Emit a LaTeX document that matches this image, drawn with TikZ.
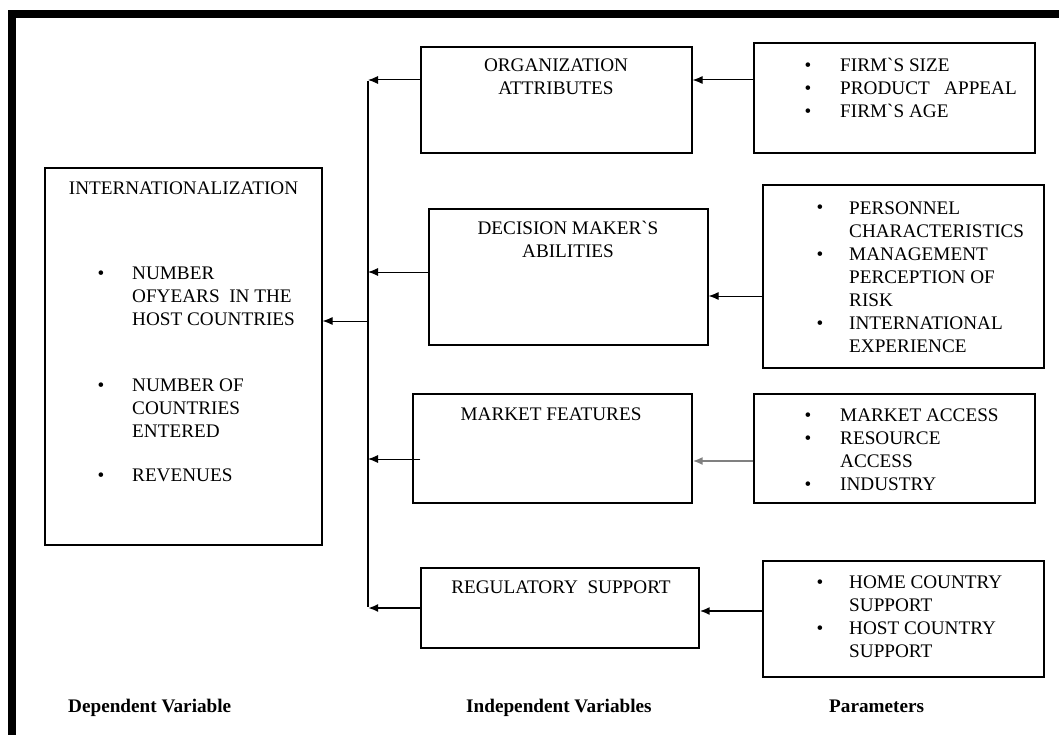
\documentclass[tikz,border=0pt]{standalone}
\usepackage{fontspec}
\setmainfont{Liberation Serif}[Ligatures=TeXOff]
\usetikzlibrary{arrows.meta}
\begin{document}
\begin{tikzpicture}[x=1pt,y=-1pt,
  box/.style={draw, line width=1.2pt, inner sep=0pt, minimum width=#1},
  txt/.style={font=\fontsize{19.2}{23}\selectfont, inner sep=0pt, anchor=base west, align=left},
  ctxt/.style={font=\fontsize{19.2}{23}\selectfont, inner sep=0pt, anchor=base, align=center},
  lbl/.style={font=\fontsize{19.2}{23}\selectfont\bfseries, inner sep=0pt, anchor=base west},
  bul/.style={font=\fontsize{19.2}{23}\selectfont, inner sep=0pt, anchor=base},
  thin/.style={line width=1pt, -{Latex[length=10pt,width=8pt]}},
  thick/.style={line width=2pt, -{Latex[length=10pt,width=8pt]}}]
\useasboundingbox (0,0) rectangle (1059,735);
% frame
\fill (8,10) rectangle (16,735);
\fill (8,10) rectangle (1059,18);
% boxes
\node[box=277pt, minimum height=377pt] (intl) at (183.5,356.5) {};
\node[box=271pt, minimum height=106pt] (org) at (556.5,100) {};
\node[box=279pt, minimum height=136pt] (dec) at (568.5,277) {};
\node[box=279pt, minimum height=109pt] (mkt) at (552.5,448.5) {};
\node[box=278pt, minimum height=80pt] (reg) at (560,608) {};
\node[box=281pt, minimum height=110pt] (p1) at (894.5,98) {};
\node[box=281pt, minimum height=183pt] (p2) at (903.5,276.5) {};
\node[box=281pt, minimum height=109pt] (p3) at (894.5,448.5) {};
\node[box=281pt, minimum height=116pt] (p4) at (903.5,619) {};
% texts (multi-line nodes: anchor on last line's baseline)
\node[ctxt] (tintl) at (183.5,195) {INTERNATIONALIZATION};
\node[bul] (bi1) at (101,279) {\textbullet};
\node[txt] (ti1) at (132,325) {NUMBER\\OFYEARS\ \ IN THE\\HOST COUNTRIES};
\node[bul] (bi2) at (101,391) {\textbullet};
\node[txt] (ti2) at (132,437) {NUMBER OF\\COUNTRIES\\ENTERED};
\node[bul] (bi3) at (101,481) {\textbullet};
\node[txt] (ti3) at (132,481) {REVENUES};
\node[ctxt] (torg) at (556,95) {ORGANIZATION\\ATTRIBUTES};
\node[ctxt] (tdec) at (568,257) {DECISION MAKER`S\\ABILITIES};
\node[ctxt] (tmkt) at (551,420) {MARKET FEATURES};
\node[ctxt] (treg) at (561,593) {REGULATORY\ \ SUPPORT};
% param 1
\node[bul] (b11) at (808,72) {\textbullet};
\node[txt] (t11) at (840,72) {FIRM`S SIZE};
\node[bul] (b12) at (808,95) {\textbullet};
\node[txt] (t12) at (840,95) {PRODUCT\ \ \ APPEAL};
\node[bul] (b13) at (808,118) {\textbullet};
\node[txt] (t13) at (840,118) {FIRM`S AGE};
% param 2
\node[bul] (b21) at (820,214) {\textbullet};
\node[txt] (t21) at (849,237) {PERSONNEL\\CHARACTERISTICS};
\node[bul] (b22) at (820,260) {\textbullet};
\node[txt] (t22) at (849,306) {MANAGEMENT\\PERCEPTION OF\\RISK};
\node[bul] (b23) at (820,329) {\textbullet};
\node[txt] (t23) at (849,352) {INTERNATIONAL\\EXPERIENCE};
% param 3
\node[bul] (b31) at (808,421) {\textbullet};
\node[txt] (t31) at (840,421) {MARKET ACCESS};
\node[bul] (b32) at (808,444) {\textbullet};
\node[txt] (t32) at (840,467) {RESOURCE\\ACCESS};
\node[bul] (b33) at (808,490) {\textbullet};
\node[txt] (t33) at (840,490) {INDUSTRY};
% param 4
\node[bul] (b41) at (820,588) {\textbullet};
\node[txt] (t41) at (849,611) {HOME COUNTRY\\SUPPORT};
\node[bul] (b42) at (820,634) {\textbullet};
\node[txt] (t42) at (849,657) {HOST COUNTRY\\SUPPORT};
% bottom labels
\node[lbl] (ldep) at (68,712) {Dependent Variable};
\node[lbl] (lind) at (466,712) {Independent Variables};
\node[lbl] (lpar) at (829,712) {Parameters};
% bus coordinates
\coordinate (j1) at (368,80);
\coordinate (j2) at (368,272);
\coordinate (j3) at (368,459);
\coordinate (j4) at (368,608);
\coordinate (ji) at (368,321);
\coordinate (k1) at (0,80);
\coordinate (k2) at (0,296);
\coordinate (k3) at (0,461);
\coordinate (k4) at (0,611);
\draw[line width=2pt] ([yshift=-1pt]j1) -- ([yshift=1pt]j4);
% connectors
\draw[thin] (org.west |- j1) -- (j1);
\draw[thin] (dec.west |- j2) -- (j2);
\draw[thin] ([xshift=8pt]mkt.west |- j3) -- (j3);
\draw[thick] (reg.west |- j4) -- (j4);
\draw[thin] (ji) -- (intl.east |- ji);
\draw[thin] (p1.west |- k1) -- (org.east |- k1);
\draw[thin] (p2.west |- k2) -- (dec.east |- k2);
\draw[thick, draw=gray] (p3.west |- k3) -- (mkt.east |- k3);
\draw[thick] (p4.west |- k4) -- (reg.east |- k4);
\end{tikzpicture}
\end{document}
